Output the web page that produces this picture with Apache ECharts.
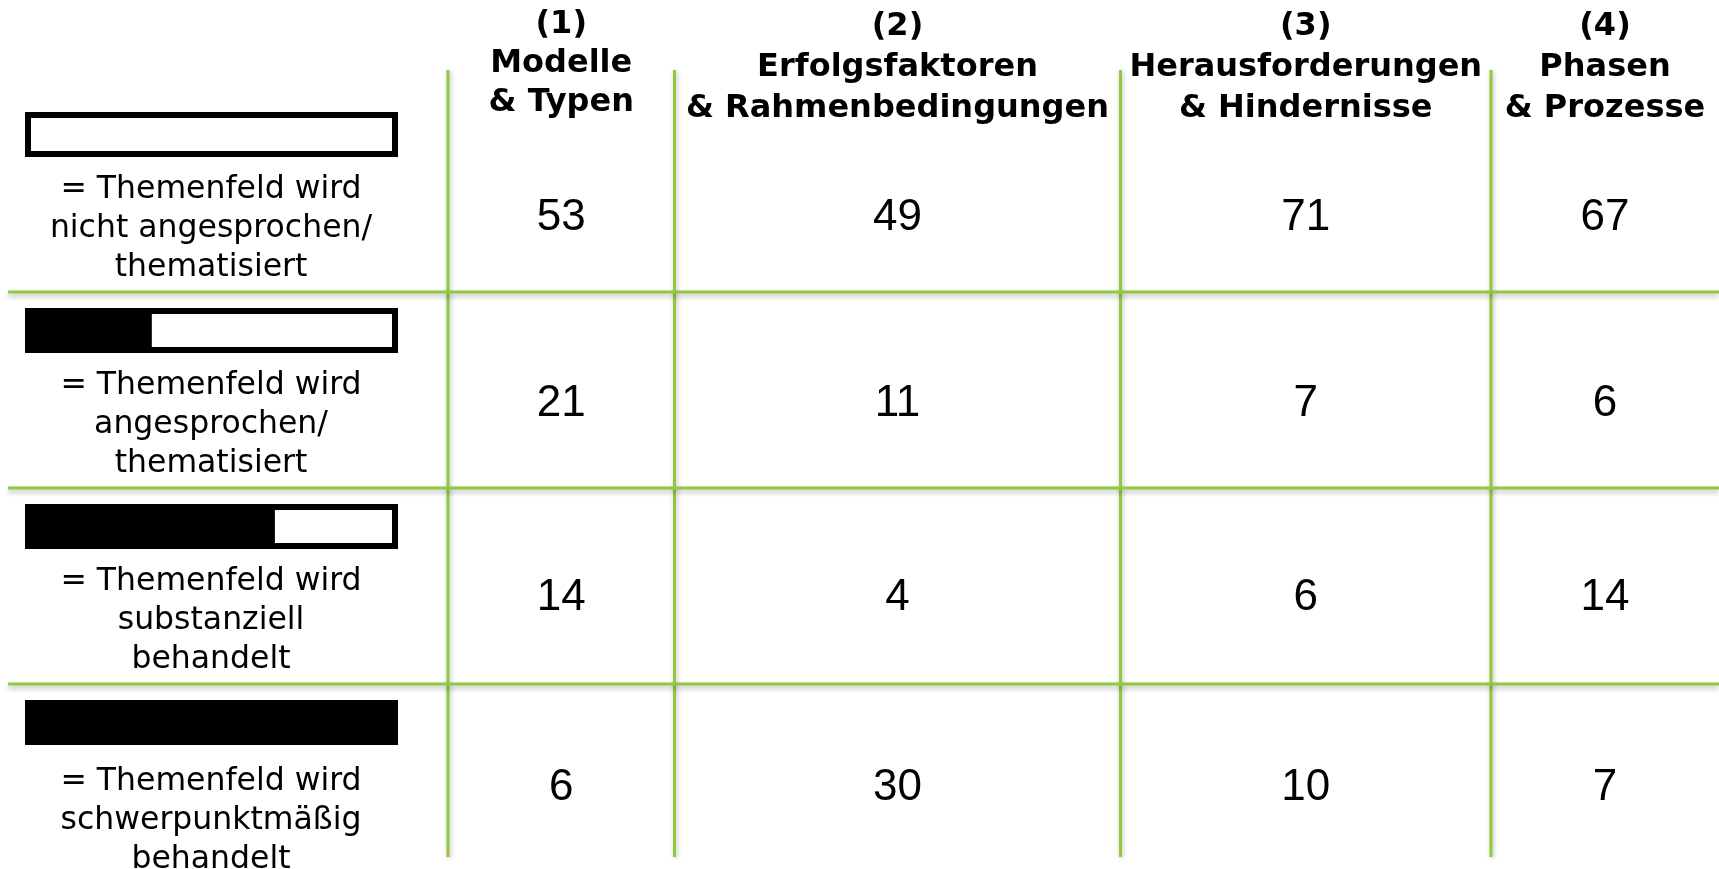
<!DOCTYPE html>
<html><head><meta charset="utf-8">
<script src="https://cdn.jsdelivr.net/npm/echarts@6/dist/echarts.min.js"></script>
<style>html,body{margin:0;padding:0;background:#fff}#c{width:1719px;height:869px}</style>
</head><body><div id="c"></div>
<script>
// ---- data ----
const columnHeaders = [
  '(1)\nModelle\n& Typen',
  '(2)\nErfolgsfaktoren\n& Rahmenbedingungen',
  '(3)\nHerausforderungen\n& Hindernisse',
  '(4)\nPhasen\n& Prozesse'
];
const levelLabels = [
  '= Themenfeld wird\nnicht angesprochen/\nthematisiert',
  '= Themenfeld wird\nangesprochen/\nthematisiert',
  '= Themenfeld wird\nsubstanziell\nbehandelt',
  '= Themenfeld wird\nschwerpunktmäßig\nbehandelt'
];
const levelFill = [0, 0.34, 0.67, 1];
const modelleTypen = [53, 21, 14, 6];
const erfolgsfaktoren = [49, 11, 4, 30];
const herausforderungen = [71, 7, 6, 10];
const phasenProzesse = [67, 6, 14, 7];

// ---- layout ----
const colEdges = [8, 448, 674.5, 1120.5, 1491, 1719];
const headerShift = [-32.5, -28, -28, -28];
const headerLineHeight = [39, 41, 41, 41];
const numberShift = [24, 14, 11.5, 5.5];
const legendTextShift = [0, 0, 0, 4];
const GREEN = '#92C83E';
const columns = [modelleTypen, erfolgsfaktoren, herausforderungen, phasenProzesse];

const numberData = [];
columns.forEach((vals, c) => vals.forEach((v, r) => numberData.push([c, r, v])));
const legendData = levelFill.map((f, r) => [r, f]);
const headerData = columnHeaders.map((h, c) => [c, 0]);
const ruleData = [[0, 1], [0, 2], [0, 3], [0, 4], [1, 1], [1, 2], [1, 3]];

function colCenter(c) { return (colEdges[c + 1] + colEdges[c + 2]) / 2; }

const chart = echarts.init(document.getElementById('c'), null, { renderer: 'canvas' });
chart.setOption({
  animation: false,
  backgroundColor: '#fff',
  grid: { left: 0, right: 0, top: 96, height: 784, containLabel: false, outerBoundsMode: 'none' },
  xAxis: { type: 'value', min: 0, max: 1719, show: false },
  yAxis: { type: 'value', min: 0, max: 4, inverse: true, show: false },
  series: [
    {
      type: 'custom', silent: true, data: ruleData, z: 1,
      renderItem(params, api) {
        const kind = api.value(0), k = api.value(1);
        if (kind === 0) {
          const x = api.coord([colEdges[k], 0])[0];
          const y1 = api.coord([0, 0])[1] - 26;
          const y2 = api.coord([0, 4])[1] - 23;
          return { type: 'line', shape: { x1: x, y1: y1, x2: x, y2: y2 },
            style: { stroke: GREEN, lineWidth: 3, shadowBlur: 5, shadowColor: 'rgba(0,0,0,0.28)', shadowOffsetX: 1, shadowOffsetY: 1 } };
        }
        const y = api.coord([0, k])[1];
        const x1 = api.coord([colEdges[0], 0])[0];
        const x2 = api.coord([colEdges[5], 0])[0];
        return { type: 'line', shape: { x1: x1, y1: y, x2: x2, y2: y },
          style: { stroke: GREEN, lineWidth: 3, shadowBlur: 5, shadowColor: 'rgba(0,0,0,0.28)', shadowOffsetY: 3 } };
      }
    },
    {
      type: 'custom', silent: true, data: headerData, z: 3,
      renderItem(params, api) {
        const c = api.value(0);
        const p = api.coord([colCenter(c), 0]);
        return { type: 'text', style: {
          text: columnHeaders[c], x: p[0], y: p[1] + headerShift[c],
          align: 'center', verticalAlign: 'middle', lineHeight: headerLineHeight[c],
          fontFamily: 'DejaVu Sans', fontWeight: 'bold', fontSize: 32, fill: '#000' } };
      }
    },
    {
      type: 'custom', silent: true, data: legendData, z: 3,
      renderItem(params, api) {
        const r = api.value(0), f = api.value(1);
        const T = api.coord([0, r])[1];
        const bx = api.coord([25, 0])[0], bw = 373, by = T + 16, bh = 45;
        const cx = api.coord([211, 0])[0];
        const children = [
          { type: 'rect', shape: { x: bx + 3, y: by + 3, width: bw - 6, height: bh - 6 },
            style: { fill: '#fff', stroke: '#000', lineWidth: 6 } }
        ];
        if (f > 0) children.push({ type: 'rect', shape: { x: bx, y: by, width: bw * f, height: bh }, style: { fill: '#000' } });
        children.push({ type: 'text', style: {
          text: levelLabels[r], x: cx, y: T + 133 + legendTextShift[r], align: 'center', verticalAlign: 'middle',
          fontFamily: 'DejaVu Sans', fontSize: 31.5, lineHeight: 39, fill: '#000' } });
        return { type: 'group', children: children };
      }
    },
    {
      type: 'custom', silent: true, data: numberData, z: 3,
      renderItem(params, api) {
        const c = api.value(0), r = api.value(1), v = api.value(2);
        const p = api.coord([colCenter(c), r + 0.5]);
        return { type: 'text', style: {
          text: String(v), x: p[0], y: p[1] + numberShift[r], align: 'center', verticalAlign: 'middle',
          fontFamily: 'Liberation Sans', fontSize: 44, fill: '#000' } };
      }
    }
  ]
});
</script></body></html>
